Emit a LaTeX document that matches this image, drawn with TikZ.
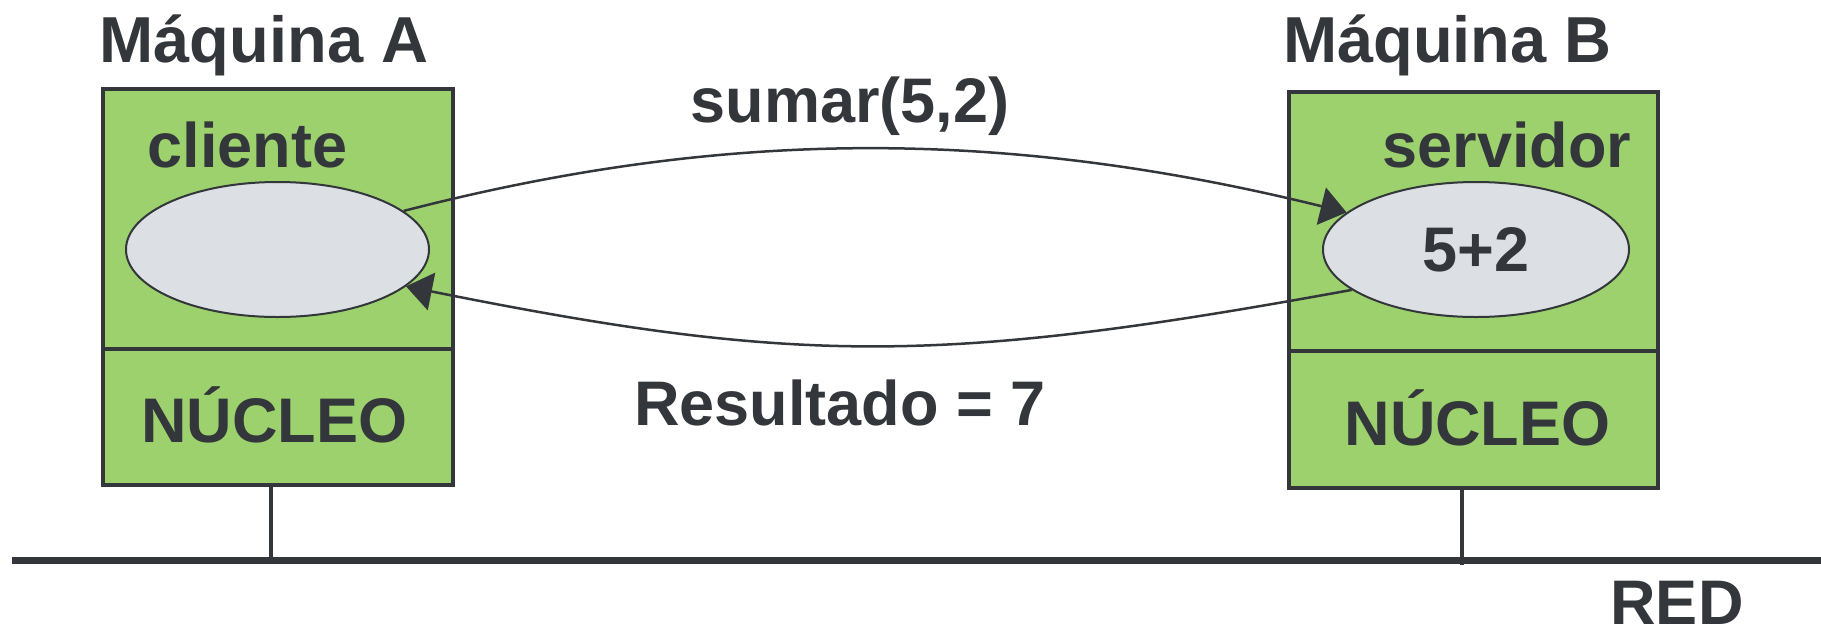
\documentclass[tikz,border=0pt]{standalone}
\usepackage{fontspec}
\setmainfont{Liberation Sans}
\usetikzlibrary{shapes.geometric,arrows.meta}
\definecolor{ink}{HTML}{33363A}
\definecolor{boxgreen}{HTML}{9DD16E}
\definecolor{procgray}{HTML}{DCDFE3}
\begin{document}
\begin{tikzpicture}[x=1pt,y=-1pt,
  lbl/.style={inner sep=0pt, anchor=base, text=ink,
    font=\fontsize{63}{70}\selectfont\bfseries},
  title/.style={lbl, font=\fontsize{65}{72}\selectfont\bfseries},
  layer/.style={draw=ink, line width=3.5pt, fill=boxgreen, rectangle,
    inner sep=0pt, outer sep=0pt},
  proc/.style={draw=ink, line width=2pt, fill=procgray, ellipse,
    inner sep=0pt, minimum height=135pt, text=ink,
    font=\fontsize{63}{70}\selectfont\bfseries},
  msg/.style={draw=ink, line width=2.5pt,
    -{Triangle[length=26pt,width=38pt]}},
  wire/.style={draw=ink, line width=3.5pt}
]
\useasboundingbox (0,0) rectangle (1821,630);

% machine A: application layer and kernel
\node[layer, minimum width=350pt, minimum height=260pt] (appA) at (278,219) {};
\node[layer, minimum width=350pt, minimum height=136pt] (kernA) at (278,417) {};
% machine B
\node[layer, minimum width=369pt, minimum height=259pt] (appB) at (1473.5,221.5) {};
\node[layer, minimum width=369pt, minimum height=137pt] (kernB) at (1473.5,419.5) {};

% processes
\node[proc, minimum width=303pt] (cli) at (277.5,249.5) {};
\node[proc, minimum width=306pt] (srv) at (1476,249.5) {5+2};

% titles and labels
\node[title] (tA) at (264,62) {Máquina A};
\node[title] (tB) at (1447.5,62) {Máquina B};
\node[lbl] (lcli) at (247.5,167) {cliente};
\node[lbl] (lsrv) at (1507,167) {servidor};
\node[lbl] (nA) at (274.5,442) {NÚCLEO};
\node[lbl] (nB) at (1477.5,445) {NÚCLEO};
\node[lbl] (call) at (850,122) {sumar(5,2)};
\node[lbl] (res) at (840,425) {Resultado = 7};
\node[lbl] (red) at (1677,624) {RED};

% network bus and attachments
\coordinate (busL) at (12,560);
\coordinate (busR) at (1821,560);
\coordinate (tapA) at (271,560);
\coordinate (tapB) at (1462,565);
\draw[draw=ink, line width=7pt] (busL) -- (busR);
\draw[wire] (kernA.south -| tapA) -- (tapA);
\draw[wire] (kernB.south -| tapB) -- (tapB);

% request and reply
\draw[msg] (cli.17) .. controls (725,128) and (1004,128) .. (srv.164);
\draw[msg] (srv.198) .. controls (940,365) and (798,365) .. (cli.-16);
\end{tikzpicture}
\end{document}
